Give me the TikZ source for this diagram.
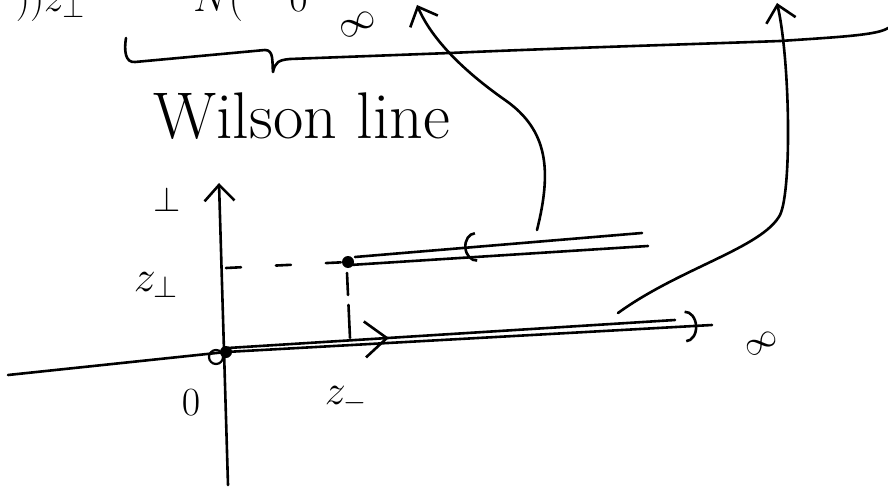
\RequirePackage{fix-cm}
\documentclass[tikz,border=0pt]{standalone}
\usepackage{amsmath}
\usetikzlibrary{arrows.meta,decorations.markings}

\begin{document}
\begin{tikzpicture}[x=1pt, y=-1pt, line width=2.6pt, line cap=round, line join=round,
	every node/.style={inner sep=0pt, font=\fontsize{40}{48}\selectfont},
	>={Straight Barb[length=16pt, width=30pt]},
	midtip/.style 2 args={postaction={decorate}, decoration={markings, mark=at position #1 with {\arrow{#2}}}}]
	\useasboundingbox (0,0) rectangle (888,489);
	% points of the axes and the two paths
	\coordinate (O) at (226,352);
	\coordinate (Oc) at (216,357);
	\coordinate (xl) at (8,375);
	\coordinate (xr) at (712,325);
	\coordinate (yb) at (228,485);
	\coordinate (yt) at (219,183);
	\coordinate (tick) at (226,268);
	\coordinate (P) at (348,262);
	\coordinate (Pd) at (350,338);
	\coordinate (Pv) at (347,273);
	% texts (the top row is cut by the page edge)
	\node[anchor=base east] (topA) at (86,12) {$))z_\perp$};
	\node[anchor=base west] (topB) at (192,12) {$N($};
	\node[anchor=base west] (topC) at (288,12) {$0$};
	\node[rotate=27, font=\fontsize{38}{42}\selectfont] (inftop) at (358,25) {$\infty$};
	\node[anchor=base west, font=\fontsize{66}{72}\selectfont] (wl) at (152,139) {Wilson line};
	\node[font=\fontsize{35}{40}\selectfont] (perp) at (167,199) {$\perp$};
	\node[font=\fontsize{44}{50}\selectfont] (zperp) at (156,285) {$z_\perp$};
	\node (zero) at (191,403) {$0$};
	\node[font=\fontsize{42}{48}\selectfont] (zminus) at (346,400) {$z_-$};
	\node[rotate=30, font=\fontsize{34}{38}\selectfont] (infx) at (762,344) {$\infty$};
	% brace and long line under the top row
	\draw (126,38) .. controls (124,50) and (125,63) .. (135,62)
		-- (265,50) .. controls (274,50) and (272,62) .. (273,72)
		.. controls (275,62) and (279,60) .. (290,59)
		-- (450,53) .. controls (560,48) and (700,44) .. (780,41)
		.. controls (840,37) and (878,35) .. (888,28);
	% axes
	\draw[->] (yb) -- (yt);
	\draw (xl) -- (O);
	\draw[midtip={0.97}{Arc Barb[length=12pt, width=32pt]}] (O) -- (xr);
	% double line from the origin
	\draw[midtip={0.36}{Straight Barb[length=22pt, width=36pt]}] (228,348) -- (675,320);
	% double line from the point
	\draw[midtip={0.62}{Arc Barb[length=12pt, width=30pt]}] (642,233) -- (355,257);
	\draw (350,265) -- (648,246);
	% dashed guides
	\draw[dash pattern=on 15pt off 35pt] (tick) -- (P);
	\draw[dash pattern=on 22pt off 10pt on 33pt off 10pt] (Pv) -- (Pd);
	\fill (P) circle[radius=6];
	\fill (O) circle[radius=6];
	\draw[line width=2.2pt] (Oc) circle[radius=7];
	% curved arrows up to the top row
	\coordinate (c1s) at (537,230);
	\coordinate (c1e) at (417,5);
	\draw[->] (c1s) .. controls (552,170) and (548,130) .. (505,100)
		.. controls (465,72) and (432,40) .. (c1e);
	\coordinate (c2s) at (618,313);
	\coordinate (c2m) at (780,215);
	\coordinate (c2e) at (777,3);
	\draw[->] (c2s) .. controls (680,268) and (762,248) .. (c2m)
		.. controls (792,190) and (790,60) .. (c2e);
\end{tikzpicture}
\end{document}
